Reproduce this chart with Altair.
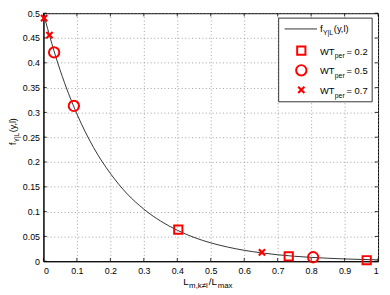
import altair as alt
import pandas as pd

# ---- data ----
curve_x = [0, 0.025, 0.05, 0.075, 0.1, 0.15, 0.2, 0.25, 0.3, 0.35, 0.4, 0.45, 0.5,
           0.55, 0.6, 0.65, 0.7, 0.75, 0.8, 0.85, 0.9, 0.95, 1.0]
curve_y = [0.5, 0.439, 0.385, 0.338, 0.297, 0.229, 0.177, 0.136, 0.105, 0.081, 0.0625,
           0.048, 0.037, 0.0286, 0.022, 0.017, 0.013, 0.010, 0.0078, 0.006, 0.0046,
           0.0036, 0.0028]

sq_x = [0.403, 0.733, 0.966]   # WT_per = 0.2
sq_y = [0.0635, 0.010, 0.002]
ci_x = [0.032, 0.091, 0.806]   # WT_per = 0.5
ci_y = [0.421, 0.313, 0.008]
cr_x = [0.002, 0.018, 0.653]   # WT_per = 0.7
cr_y = [0.490, 0.456, 0.018]

x_ticks = [0, 0.1, 0.2, 0.3, 0.4, 0.5, 0.6, 0.7, 0.8, 0.9, 1.0]
y_ticks = [0, 0.05, 0.1, 0.15, 0.2, 0.25, 0.3, 0.35, 0.4, 0.45, 0.5]

FONT = "Liberation Sans"
RED = "#ff0000"

xs = alt.Scale(domain=[0, 1], nice=False, zero=False)
ys = alt.Scale(domain=[0, 0.5], nice=False, zero=False)
xa = alt.Axis(values=x_ticks, format="~g", title=None, grid=True, gridDash=[1, 2.5],
              gridColor="#888", gridWidth=0.8, ticks=False, domainColor="black",
              domainWidth=1, labelFont=FONT, labelFontSize=9, labelColor="black",
              labelPadding=5)
ya = alt.Axis(values=y_ticks, format="~g", title=None, grid=True, gridDash=[1, 2.5],
              gridColor="#888", gridWidth=0.8, ticks=False, domainColor="black",
              domainWidth=1, labelFont=FONT, labelFontSize=9, labelColor="black",
              labelPadding=4)

df_curve = pd.DataFrame({"x": curve_x, "y": curve_y})
curve = alt.Chart(df_curve).mark_line(color="black", strokeWidth=0.8,
                                      interpolate="monotone").encode(
    x=alt.X("x:Q", scale=xs, axis=xa), y=alt.Y("y:Q", scale=ys, axis=ya))


def pts(xv, yv, shape, size, sw):
    d = pd.DataFrame({"x": xv, "y": yv})
    return alt.Chart(d).mark_point(shape=shape, size=size, filled=False, color=RED,
                                   strokeWidth=sw, opacity=1).encode(
        x=alt.X("x:Q", scale=xs, axis=xa), y=alt.Y("y:Q", scale=ys, axis=ya))


XPATH = "M-1,-1L1,1M-1,1L1,-1"
squares = pts(sq_x, sq_y, "square", 70, 2)
circles = pts(ci_x, ci_y, "circle", 110, 2)
crosses = pts(cr_x, cr_y, XPATH, 40, 2.2)

# inward ticks on all four sides
dxt = pd.DataFrame({"x": x_ticks, "y0": 0.0, "y1": 0.0065, "t0": 0.5, "t1": 0.4935})
dyt = pd.DataFrame({"y": y_ticks, "x0": 0.0, "x1": 0.01, "r0": 1.0, "r1": 0.99})
tb = alt.Chart(dxt).mark_rule(color="black", strokeWidth=0.8).encode(
    x=alt.X("x:Q", scale=xs, axis=xa), y=alt.Y("y0:Q", scale=ys, axis=ya), y2="y1:Q")
tt = alt.Chart(dxt).mark_rule(color="black", strokeWidth=0.8).encode(
    x=alt.X("x:Q", scale=xs, axis=xa), y=alt.Y("t0:Q", scale=ys, axis=ya), y2="t1:Q")
tl = alt.Chart(dyt).mark_rule(color="black", strokeWidth=0.8).encode(
    y=alt.Y("y:Q", scale=ys, axis=ya), x=alt.X("x0:Q", scale=xs, axis=xa), x2="x1:Q")
tr = alt.Chart(dyt).mark_rule(color="black", strokeWidth=0.8).encode(
    y=alt.Y("y:Q", scale=ys, axis=ya), x=alt.X("r0:Q", scale=xs, axis=xa), x2="r1:Q")

one = pd.DataFrame({"a": [0]})


def txt(s, x, y, size=9, angle=0):
    return alt.Chart(one).mark_text(text=s, font=FONT, fontSize=size, align="left",
                                    baseline="alphabetic", angle=angle,
                                    color="black").encode(
        x=alt.value(x), y=alt.value(y))


# legend (annotation)
leg_box = alt.Chart(one).mark_rect(fill="white", stroke="black", strokeWidth=0.8).encode(
    x=alt.value(239), x2=alt.value(334), y=alt.value(5), y2=alt.value(90))
leg_line = alt.Chart(one).mark_rule(color="black", strokeWidth=0.8).encode(
    x=alt.value(245), x2=alt.value(278), y=alt.value(16))


def leg_sym(shape, size, sw, y):
    return alt.Chart(one).mark_point(shape=shape, size=size, filled=False, color=RED,
                                     strokeWidth=sw, opacity=1).encode(
        x=alt.value(262), y=alt.value(y))


legend = [leg_box, leg_line,
          leg_sym("square", 70, 2, 38), leg_sym("circle", 110, 2, 58),
          leg_sym(XPATH, 40, 2.2, 78),
          txt("f", 281, 19, 10), txt("Y|L", 284, 22, 7), txt("(y,l)", 295, 19, 9.5)]
for yy, v in [(42, "0.2"), (62, "0.5"), (82, "0.7")]:
    legend += [txt("WT", 281, yy, 9.5), txt("per", 296, yy + 4, 7),
               txt("= " + v, 308, yy, 9.5)]

# axis titles built from pieces (sub-scripts)
titles = [txt("L", 142, 276, 10), txt("m,k\u2260l", 148, 279, 8), txt("/L", 168, 276, 10),
          txt("max", 177, 279, 8),
          txt("f", -28, 134, 9, 270), txt("Y|L", -25, 131, 6.5, 270),
          txt("(y,l)", -28, 121, 9, 270)]

chart = alt.layer(curve, tb, tt, tl, tr, squares, circles, crosses,
                  *legend, *titles).properties(
    width=340, height=252, autosize="none",
    padding={"left": 36, "top": 3, "right": 4, "bottom": 30},
).configure_view(stroke="black", strokeWidth=1)

chart.save("out.html", embed_options={"renderer": "svg", "actions": False})
